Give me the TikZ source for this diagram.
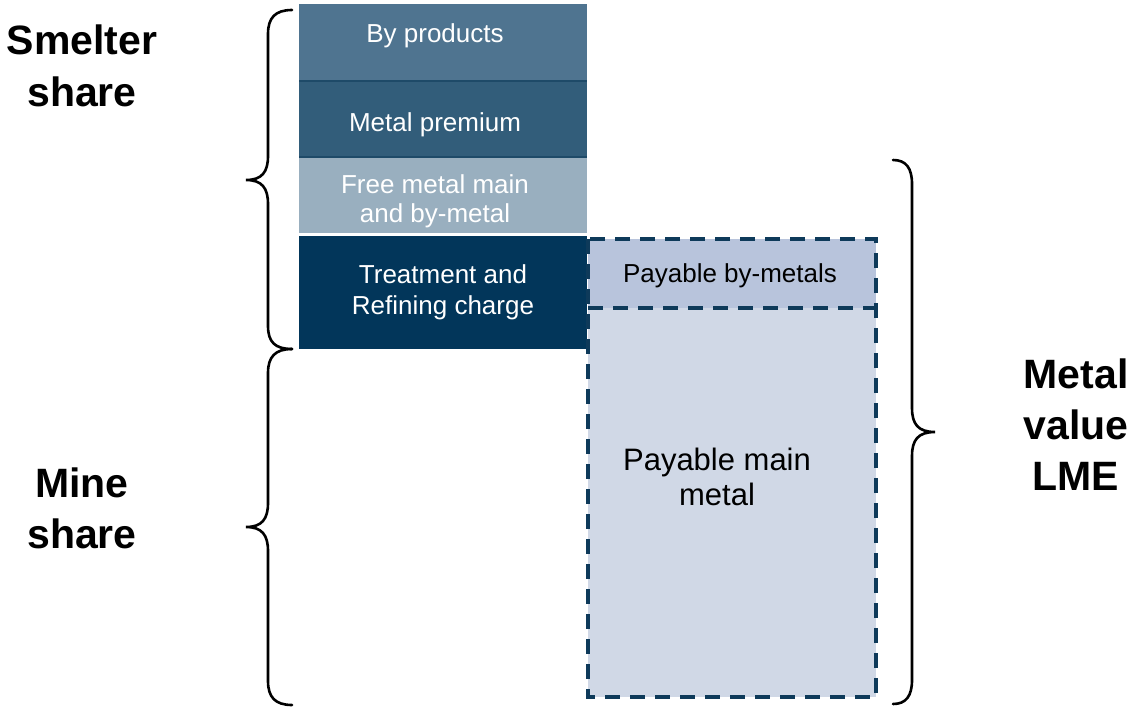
\documentclass[tikz,border=0pt]{standalone}
\usepackage{fontspec}
\setmainfont{Liberation Sans}
\definecolor{cByprod}{HTML}{4F7490}
\definecolor{cPrem}{HTML}{325D7A}
\definecolor{cFree}{HTML}{99AFBF}
\definecolor{cTRC}{HTML}{02365A}
\definecolor{cSep}{HTML}{1E4A68}
\definecolor{cPbm}{HTML}{B8C4DC}
\definecolor{cPmm}{HTML}{D0D8E6}
\definecolor{cDash}{HTML}{0E3A5A}
\tikzset{
  blockbox/.style={anchor=north west, inner sep=0pt, outer sep=0pt, draw=none},
  boxtext/.style={anchor=base, inner sep=0pt, text=white, font=\fontsize{26}{30}\selectfont},
  darktext/.style={anchor=base, inner sep=0pt, text=black, font=\fontsize{26}{30}\selectfont},
  bigtext/.style={anchor=base, inner sep=0pt, text=black, font=\fontsize{31}{36}\selectfont},
  sidelabel/.style={anchor=base, inner sep=0pt, text=black, font=\fontsize{41}{51}\selectfont\bfseries},
  dashbox/.style={draw=cDash, line width=3.5pt, dash pattern=on 15pt off 10pt},
  bracestyle/.style={draw=black, line width=2.6pt, line cap=round}
}
\begin{document}
\begin{tikzpicture}[x=1pt,y=-1pt]
\useasboundingbox[fill=white] (0,0) rectangle (1134,707);
% left column blocks
\node[blockbox, fill=cByprod, minimum width=288pt, minimum height=77pt] (byp) at (299,4) {};
\node[blockbox, fill=cPrem, minimum width=288pt, minimum height=77pt] (prem) at (299,80) {};
\node[blockbox, fill=cFree, minimum width=288pt, minimum height=76pt] (free) at (299,157) {};
\node[blockbox, fill=cTRC, minimum width=288pt, minimum height=113pt] (trc) at (299,236) {};
\draw[cSep, line width=2pt] (byp.south west) -- (byp.south east);
\draw[cSep, line width=2pt] (prem.south west) -- (prem.south east);
% right column blocks
\node[blockbox, fill=cPbm, minimum width=288pt, minimum height=69pt] (pbm) at (588,239) {};
\node[blockbox, fill=cPmm, minimum width=288pt, minimum height=389pt] (pmm) at (588,308) {};
\draw[dashbox] (pbm.north west) rectangle (pmm.south east);
\draw[dashbox] (pbm.south west) -- (pbm.south east);
% texts in blocks
\node[boxtext] (tbyp) at (435,42) {By products};
\node[boxtext] (tprem) at (435,131) {Metal premium};
\node[boxtext] (tfree1) at (435,193) {Free metal main};
\node[boxtext] (tfree2) at (435,222) {and by-metal};
\node[boxtext] (ttrc1) at (443,283) {Treatment and};
\node[boxtext] (ttrc2) at (443,314) {Refining charge};
\node[darktext] (tpbm) at (730,282) {Payable by-metals};
\node[bigtext] (tpmm1) at (717,470) {Payable main};
\node[bigtext] (tpmm2) at (717,505) {metal};
% side labels
\node[sidelabel] (ls1) at (82,54) {Smelter};
\node[sidelabel] (ls2) at (82,106) {share};
\node[sidelabel] (lm1) at (82,497) {Mine};
\node[sidelabel] (lm2) at (82,548) {share};
\node[sidelabel] (lv1) at (1076,388) {Metal};
\node[sidelabel] (lv2) at (1076,439) {value};
\node[sidelabel] (lv3) at (1076,490) {LME};
% braces
\draw[bracestyle] (292,10) .. controls (275,10) and (268,18) .. (268,34) -- (268,156)
  .. controls (268,172) and (262,180) .. (246,180)
  .. controls (262,180) and (268,188) .. (268,204) -- (268,326)
  .. controls (268,342) and (275,349) .. (292,349);
\draw[bracestyle] (292,349) .. controls (275,349) and (268,357) .. (268,373) -- (268,503)
  .. controls (268,519) and (262,527) .. (246,527)
  .. controls (262,527) and (268,535) .. (268,551) -- (268,681)
  .. controls (268,697) and (275,705) .. (292,705);
\draw[bracestyle] (893,160) .. controls (906,160) and (912,168) .. (912,184) -- (912,408)
  .. controls (912,424) and (918,432) .. (935,432)
  .. controls (918,432) and (912,440) .. (912,456) -- (912,680)
  .. controls (912,696) and (906,704) .. (893,704);
\end{tikzpicture}
\end{document}
